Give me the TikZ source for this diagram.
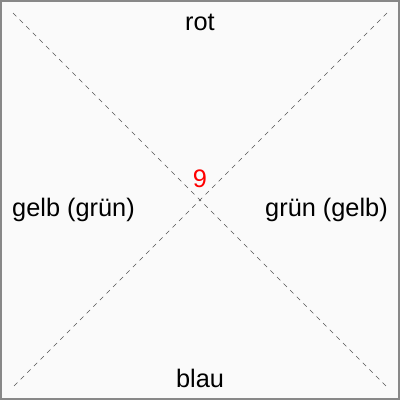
\documentclass[tikz,border=0pt]{standalone}
\usepackage{fontspec}
\setmainfont{Liberation Sans}
\usepackage{xcolor}
\definecolor{framegray}{HTML}{888888}
\definecolor{paper}{HTML}{FAFAFA}
\definecolor{diaggray}{HTML}{555555}
\tikzset{
  lbl/.style={font=\fontsize{19}{22}\selectfont,anchor=base,inner sep=0pt},
  diagline/.style={draw=diaggray,line width=0.5pt,dash pattern=on 3.5pt off 3.5pt}
}
\begin{document}
\begin{tikzpicture}[x=0.75pt,y=-0.75pt]
  \useasboundingbox (0,0) rectangle (400,400);
  \draw[draw=framegray,fill=paper,line width=1.5pt] (1,1) rectangle (399,399);
  % corners of the cross
  \coordinate (nw) at (13,13);
  \coordinate (ne) at (387,13);
  \coordinate (sw) at (13,387);
  \coordinate (se) at (387,387);
  \draw[diagline] (nw) -- (se);
  \draw[diagline] (ne) -- (sw);
  % labels
  \node[lbl] (rot) at (200,30) {rot};
  \node[lbl] (blau) at (200,387) {blau};
  \node[lbl] (gelb) at (73.5,216) {gelb (grün)};
  \node[lbl] (gruen) at (326.5,216) {grün (gelb)};
  \node[lbl,text=red] (nine) at (200,187) {9};
\end{tikzpicture}
\end{document}
